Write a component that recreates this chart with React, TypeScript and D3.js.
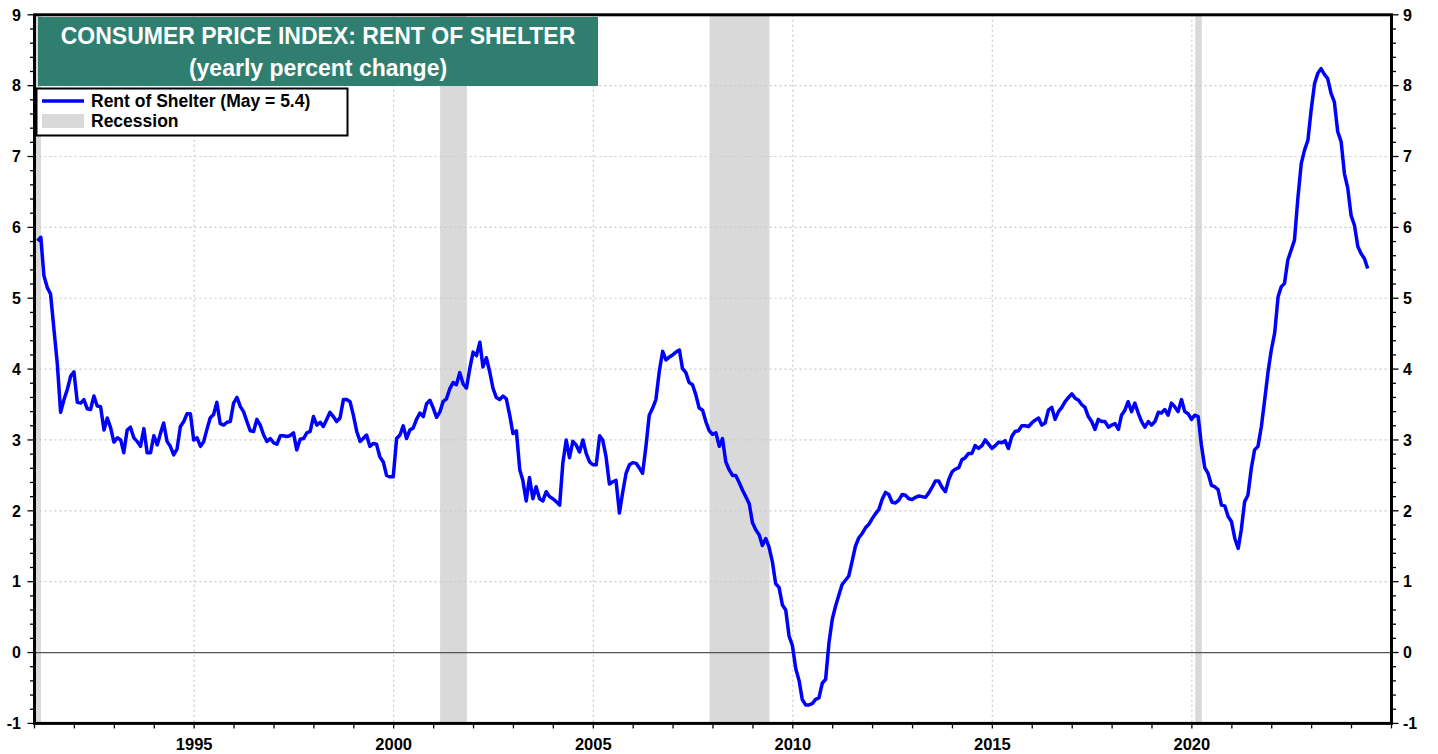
import React, { useRef, useEffect } from "react";
import * as d3 from "d3";

// monthly yoy % change, Jan 1991 .. May 2024
const rent1990s = [
  5.81, 5.86, 5.32, 5.15, 5.06, 4.56, 4.09, 3.39, 3.57, 3.71, 3.9, 3.96,
  3.53, 3.52, 3.57, 3.44, 3.43, 3.62, 3.48, 3.47, 3.14, 3.31, 3.17, 2.97,
  3.03, 3.0, 2.82, 3.14, 3.18, 3.03, 2.98, 2.91, 3.16, 2.82, 2.82, 3.06,
  2.93, 3.1, 3.24, 2.98, 2.91, 2.79, 2.87, 3.19, 3.26, 3.37, 3.37, 3.0,
  3.03, 2.91, 2.97, 3.15, 3.31, 3.36, 3.53, 3.23, 3.21, 3.25, 3.26, 3.52,
  3.6, 3.47, 3.4, 3.26, 3.13, 3.12, 3.29, 3.21, 3.07, 2.98, 3.02, 2.96,
  2.94, 3.06, 3.06, 3.05, 3.06, 3.1, 2.86, 3.01, 3.02, 3.1, 3.12, 3.33,
  3.21, 3.25, 3.19, 3.29, 3.39, 3.33, 3.26, 3.31, 3.57, 3.57, 3.54, 3.35,
  3.12, 2.98, 3.02, 3.07, 2.91, 2.95, 2.94, 2.76, 2.69, 2.5, 2.48, 2.48,
];
const rent2000s = [
  3.02, 3.07, 3.2, 3.02, 3.14, 3.17, 3.29, 3.38, 3.33, 3.51, 3.56, 3.45,
  3.32, 3.4, 3.54, 3.58, 3.72, 3.81, 3.78, 3.95, 3.79, 3.73, 4.01, 4.24,
  4.19, 4.38, 4.03, 4.16, 3.97, 3.73, 3.6, 3.57, 3.62, 3.58, 3.35, 3.09,
  3.13, 2.58, 2.43, 2.14, 2.47, 2.17, 2.34, 2.17, 2.14, 2.27, 2.2, 2.17,
  2.13, 2.08, 2.67, 3.0, 2.75, 2.98, 2.93, 2.83, 3.0, 2.81, 2.69, 2.65,
  2.65, 3.06, 3.0, 2.76, 2.38, 2.41, 2.43, 1.97, 2.27, 2.53, 2.65, 2.68,
  2.67, 2.6, 2.53, 2.91, 3.35, 3.45, 3.57, 3.97, 4.25, 4.13, 4.17, 4.2,
  4.24, 4.27, 4.01, 3.95, 3.81, 3.78, 3.64, 3.45, 3.42, 3.26, 3.13, 3.08,
  3.1, 2.91, 3.02, 2.69, 2.58, 2.5, 2.5, 2.4, 2.29, 2.2, 2.1, 1.83,
  1.73, 1.66, 1.51, 1.61, 1.49, 1.28, 0.97, 0.92, 0.67, 0.6, 0.23, 0.1,
];
const rent2010s = [
  -0.23, -0.4, -0.66, -0.74, -0.74, -0.72, -0.66, -0.64, -0.43, -0.38, 0.14, 0.47,
  0.66, 0.82, 0.96, 1.02, 1.08, 1.29, 1.5, 1.62, 1.68, 1.76, 1.81, 1.89,
  1.96, 2.02, 2.16, 2.26, 2.23, 2.12, 2.11, 2.15, 2.23, 2.22, 2.17, 2.16,
  2.19, 2.21, 2.2, 2.19, 2.25, 2.33, 2.42, 2.42, 2.33, 2.27, 2.44, 2.55,
  2.59, 2.61, 2.72, 2.75, 2.81, 2.81, 2.92, 2.88, 2.92, 3.0, 2.94, 2.88,
  2.92, 2.97, 2.96, 2.99, 2.88, 3.05, 3.12, 3.13, 3.2, 3.2, 3.19, 3.24,
  3.28, 3.31, 3.21, 3.24, 3.42, 3.46, 3.29, 3.4, 3.46, 3.54, 3.6, 3.65,
  3.59, 3.56, 3.5, 3.46, 3.33, 3.26, 3.15, 3.29, 3.26, 3.26, 3.18, 3.21,
  3.23, 3.15, 3.35, 3.42, 3.54, 3.4, 3.52, 3.38, 3.26, 3.18, 3.26, 3.21,
  3.26, 3.39, 3.38, 3.43, 3.35, 3.52, 3.47, 3.4, 3.57, 3.4, 3.37, 3.29,
];
const rent2020s = [
  3.35, 3.33, 2.93, 2.61, 2.53, 2.36, 2.34, 2.3, 2.08, 2.07, 1.92, 1.85,
  1.61, 1.47, 1.73, 2.13, 2.22, 2.6, 2.86, 2.91, 3.19, 3.56, 3.96, 4.27,
  4.51, 5.02, 5.16, 5.21, 5.54, 5.68, 5.82, 6.41, 6.9, 7.09, 7.23, 7.66,
  8.03, 8.18, 8.24, 8.16, 8.1, 7.89, 7.77, 7.35, 7.21, 6.76, 6.55, 6.17,
  6.03, 5.73, 5.63, 5.56, 5.42,
];

const startYear = 1991;
const recessions = [
  ["1990-07-01", "1991-03-01"],
  ["2001-03-01", "2001-11-01"],
  ["2007-12-01", "2009-06-01"],
  ["2020-02-01", "2020-04-01"],
];
const xLabelYears = [1995, 2000, 2005, 2010, 2015, 2020];
const yLabels = [-1, 0, 1, 2, 3, 4, 5, 6, 7, 8, 9];
const titleLines = ["CONSUMER PRICE INDEX: RENT OF SHELTER", "(yearly percent change)"];
const legendItems = ["Rent of Shelter (May = 5.4)", "Recession"];

const App = () => {
  const svgRef = useRef<SVGSVGElement>(null);

  useEffect(() => {
    const svg = d3.select(svgRef.current);
    svg.selectAll("*").remove();

    const width = 1438;
    const height = 754;
    const left = 34.5;
    const right = 1391.5;
    const top = 14.8;
    const bottom = 723.4;
    const font = "'Liberation Sans', Arial, sans-serif";

    const values = [...rent1990s, ...rent2000s, ...rent2010s, ...rent2020s];
    const data = values.map((v, i) => ({ date: new Date(startYear, i, 28), value: v }));

    const x = d3
      .scaleTime()
      .domain([new Date(1991, 0, 1), new Date(2025, 0, 1)])
      .range([left, right]);
    const y = d3.scaleLinear().domain([-1, 9]).range([bottom, top]);

    svg.append("rect").attr("width", width).attr("height", height).attr("fill", "#fff");

    // recession bands
    svg
      .append("g")
      .selectAll("rect")
      .data(recessions)
      .join("rect")
      .attr("x", (d) => Math.max(left, x(new Date(d[0]))))
      .attr("width", (d) => x(new Date(d[1])) - Math.max(left, x(new Date(d[0]))))
      .attr("y", top)
      .attr("height", bottom - top)
      .attr("fill", "#d9d9d9");

    // dotted grid
    const grid = svg.append("g").attr("stroke", "#c9c9c9").attr("stroke-width", 1.2).attr("stroke-dasharray", "2,3");
    grid
      .selectAll("line.h")
      .data(yLabels.filter((v) => v > -1 && v < 9 && v !== 0))
      .join("line")
      .attr("x1", left)
      .attr("x2", right)
      .attr("y1", (d) => y(d))
      .attr("y2", (d) => y(d));
    grid
      .selectAll("line.v")
      .data(xLabelYears)
      .join("line")
      .attr("x1", (d) => x(new Date(d, 0, 1)))
      .attr("x2", (d) => x(new Date(d, 0, 1)))
      .attr("y1", top)
      .attr("y2", bottom);

    // zero line
    svg
      .append("line")
      .attr("x1", left)
      .attr("x2", right)
      .attr("y1", y(0))
      .attr("y2", y(0))
      .attr("stroke", "#555")
      .attr("stroke-width", 1.2);

    // series
    const line = d3
      .line<{ date: Date; value: number }>()
      .x((d) => x(d.date))
      .y((d) => y(d.value));
    svg
      .append("path")
      .datum(data)
      .attr("d", line)
      .attr("fill", "none")
      .attr("stroke", "#0000ff")
      .attr("stroke-width", 3.5)
      .attr("stroke-linejoin", "round");

    // frame
    svg
      .append("rect")
      .attr("x", left)
      .attr("y", top)
      .attr("width", right - left)
      .attr("height", bottom - top)
      .attr("fill", "none")
      .attr("stroke", "#000")
      .attr("stroke-width", 3);

    // y ticks, both sides
    const yTicks = d3.range(0, 51).map((k) => -1 + k * 0.2);
    const ticks = svg.append("g").attr("stroke", "#000").attr("stroke-width", 1.3);
    yTicks.forEach((t) => {
      const major = Math.abs(t - Math.round(t)) < 1e-6;
      const len = major ? 5.5 : 3;
      ticks.append("line").attr("x1", left - 1.5).attr("x2", left - 1.5 - len).attr("y1", y(t)).attr("y2", y(t));
      ticks.append("line").attr("x1", right + 1.5).attr("x2", right + 1.5 + len).attr("y1", y(t)).attr("y2", y(t));
    });
    // x ticks, every year
    d3.range(1991, 2026).forEach((yr) => {
      const px = x(new Date(yr, 0, 1));
      ticks.append("line").attr("x1", px).attr("x2", px).attr("y1", bottom + 1.5).attr("y2", bottom + 5);
    });

    const labels = svg.append("g").attr("font-family", font).attr("font-weight", "bold").attr("fill", "#000");
    labels
      .selectAll("text.yl")
      .data(yLabels)
      .join("text")
      .attr("x", 21)
      .attr("y", (d) => y(d))
      .attr("dy", "0.36em")
      .attr("text-anchor", "end")
      .attr("font-size", 16)
      .text((d) => d);
    labels
      .selectAll("text.yr")
      .data(yLabels)
      .join("text")
      .attr("x", 1403)
      .attr("y", (d) => y(d))
      .attr("dy", "0.36em")
      .attr("text-anchor", "start")
      .attr("font-size", 16)
      .text((d) => d);
    labels
      .selectAll("text.xl")
      .data(xLabelYears)
      .join("text")
      .attr("x", (d) => x(new Date(d, 0, 1)))
      .attr("y", 750)
      .attr("text-anchor", "middle")
      .attr("font-size", 16.5)
      .text((d) => d);

    // title box
    svg.append("rect").attr("x", 38).attr("y", 17).attr("width", 560).attr("height", 69).attr("fill", "#2f7e70");
    svg
      .append("g")
      .selectAll("text")
      .data(titleLines)
      .join("text")
      .attr("x", 318)
      .attr("y", (d, i) => 44 + i * 32)
      .attr("text-anchor", "middle")
      .attr("font-family", font)
      .attr("font-weight", "bold")
      .attr("font-size", 23)
      .attr("fill", "#fff")
      .text((d) => d);

    // legend
    const lg = svg.append("g");
    lg.append("rect")
      .attr("x", 36.5)
      .attr("y", 88.5)
      .attr("width", 311)
      .attr("height", 47)
      .attr("fill", "#fff")
      .attr("stroke", "#000")
      .attr("stroke-width", 2);
    lg.append("line").attr("x1", 42).attr("x2", 84).attr("y1", 101).attr("y2", 101).attr("stroke", "#0000ff").attr("stroke-width", 3.5);
    lg.append("rect").attr("x", 42).attr("y", 114).attr("width", 42).attr("height", 14).attr("fill", "#d9d9d9");
    lg.selectAll("text")
      .data(legendItems)
      .join("text")
      .attr("x", 91)
      .attr("y", (d, i) => 101 + i * 20)
      .attr("dy", "0.36em")
      .attr("font-family", font)
      .attr("font-weight", "bold")
      .attr("font-size", 17.5)
      .attr("fill", "#000")
      .text((d) => d);
  }, []);

  return (
    <svg
      ref={svgRef}
      width={1438}
      height={754}
      style={{ position: "absolute", left: 0, top: 0, display: "block" }}
    ></svg>
  );
};

export default App;
